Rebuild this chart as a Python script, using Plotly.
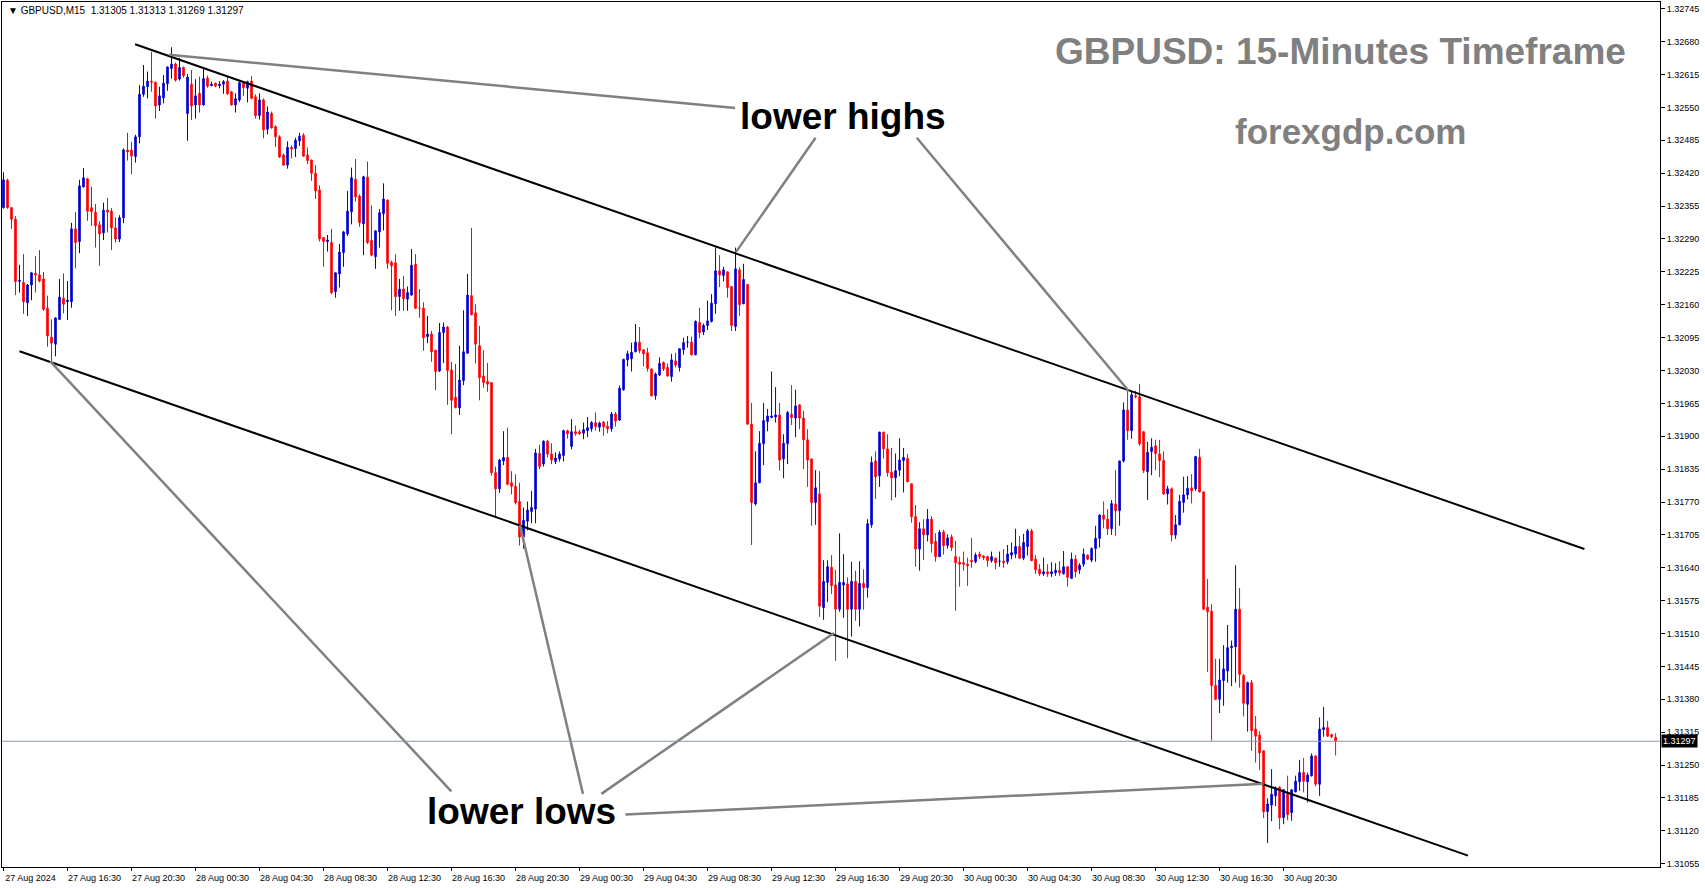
import plotly.graph_objects as go

# ---------------- data (GBPUSD M15, 27 Aug 12:30 -> 30 Aug 23:45) ----------------
open_ = [
 1.32352,1.32406,1.32352,1.32329,1.32206,1.32204,1.32164,1.32199,1.32222,1.32219,
 1.32211,1.32153,1.32096,1.32082,1.32131,1.32173,1.32166,1.32166,1.32310,1.32285,
 1.32393,1.32409,1.32352,1.32343,1.32318,1.32302,1.32347,1.32345,1.32312,1.32290,
 1.32332,1.32466,1.32466,1.32453,1.32492,1.32576,1.32591,1.32602,1.32600,1.32555,
 1.32569,1.32597,1.32627,1.32636,1.32606,1.32629,1.32538,1.32596,1.32555,1.32578,
 1.32555,1.32608,1.32593,1.32598,1.32593,1.32596,1.32602,1.32581,1.32555,1.32565,
 1.32599,1.32588,1.32602,1.32571,1.32534,1.32565,1.32507,1.32538,1.32512,1.32492,
 1.32456,1.32436,1.32471,1.32469,1.32484,1.32495,1.32456,1.32446,1.32420,1.32387,
 1.32293,1.32285,1.32283,1.32186,1.32221,1.32263,1.32300,1.32344,1.32408,1.32375,
 1.32320,1.32412,1.32287,1.32255,1.32304,1.32340,1.32367,1.32244,1.32243,1.32176,
 1.32191,1.32171,1.32179,1.32240,1.32153,1.32153,1.32097,1.32102,1.32070,1.32029,
 1.32105,1.32116,1.32031,1.31977,1.31956,1.32010,1.32064,1.32178,1.32144,1.32079,
 1.32019,1.32008,1.32006,1.31828,1.31796,1.31851,1.31858,1.31808,1.31801,1.31771,
 1.31701,1.31732,1.31751,1.31756,1.31866,1.31845,1.31890,1.31865,1.31850,1.31855,
 1.31862,1.31911,1.31880,1.31909,1.31909,1.31906,1.31911,1.31915,1.31927,1.31918,
 1.31928,1.31920,1.31915,1.31944,1.31932,1.31992,1.32051,1.32053,1.32067,1.32086,
 1.32071,1.32065,1.32033,1.31980,1.32021,1.32046,1.32036,1.32018,1.32049,1.32036,
 1.32071,1.32086,1.32086,1.32061,1.32125,1.32106,1.32119,1.32127,1.32162,1.32227,
 1.32218,1.32225,1.32196,1.32117,1.32229,1.32162,1.32200,1.31924,1.31766,1.31808,
 1.31885,1.31929,1.31937,1.31938,1.31942,1.31855,1.31885,1.31943,1.31936,1.31962,
 1.31936,1.31893,1.31855,1.31769,1.31786,1.31561,1.31611,1.31641,1.31606,1.31558,
 1.31606,1.31608,1.31558,1.31613,1.31558,1.31609,1.31601,1.31725,1.31851,1.31822,
 1.31908,1.31875,1.31829,1.31818,1.31833,1.31852,1.31856,1.31806,1.31741,1.31677,
 1.31717,1.31705,1.31736,1.31692,1.31662,1.31711,1.31684,1.31701,1.31662,1.31651,
 1.31650,1.31647,1.31655,1.31652,1.31667,1.31663,1.31662,1.31654,1.31659,1.31653,
 1.31653,1.31652,1.31665,1.31667,1.31682,1.31659,1.31682,1.31713,1.31657,1.31637,
 1.31628,1.31632,1.31628,1.31630,1.31635,1.31628,1.31642,1.31619,1.31657,1.31636,
 1.31647,1.31665,1.31655,1.31678,1.31698,1.31744,1.31736,1.31717,1.31766,1.31753,
 1.31851,1.31952,1.31911,1.31980,1.31978,1.31909,1.31830,1.31870,1.31881,1.31865,
 1.31852,1.31786,1.31796,1.31705,1.31725,1.31769,1.31784,1.31798,1.31796,1.31858,
 1.31790,1.31562,1.31554,1.31407,1.31380,1.31417,1.31436,1.31482,1.31484,1.31558,
 1.31427,1.31370,1.31413,1.31321,1.31309,1.31278,1.31158,1.31171,1.31189,1.31206,
 1.31146,1.31195,1.31156,1.31197,1.31217,1.31235,1.31217,1.31229,1.31268,1.31212,
 1.31320,1.31324,1.31310,1.31305]

high = [
 1.32422,1.32409,1.32353,1.32335,1.32239,1.32260,1.32201,1.32225,1.32256,1.32268,
 1.32225,1.32178,1.32131,1.32135,1.32211,1.32222,1.32207,1.32322,1.32343,1.32407,
 1.32430,1.32411,1.32393,1.32359,1.32325,1.32362,1.32371,1.32351,1.32333,1.32337,
 1.32469,1.32500,1.32482,1.32496,1.32594,1.32634,1.32621,1.32660,1.32601,1.32591,
 1.32614,1.32631,1.32669,1.32639,1.32648,1.32631,1.32616,1.32624,1.32606,1.32611,
 1.32627,1.32613,1.32601,1.32599,1.32602,1.32604,1.32610,1.32583,1.32578,1.32601,
 1.32602,1.32603,1.32612,1.32576,1.32578,1.32568,1.32552,1.32542,1.32515,1.32495,
 1.32459,1.32483,1.32475,1.32490,1.32500,1.32499,1.32471,1.32447,1.32436,1.32396,
 1.32294,1.32298,1.32310,1.32225,1.32280,1.32306,1.32385,1.32431,1.32448,1.32378,
 1.32415,1.32443,1.32356,1.32307,1.32349,1.32400,1.32368,1.32247,1.32260,1.32211,
 1.32217,1.32196,1.32270,1.32260,1.32191,1.32165,1.32138,1.32108,1.32071,1.32124,
 1.32125,1.32118,1.32047,1.32043,1.32079,1.32149,1.32221,1.32312,1.32161,1.32118,
 1.32070,1.32045,1.32007,1.31840,1.31855,1.31910,1.31917,1.31831,1.31825,1.31808,
 1.31759,1.31771,1.31792,1.31875,1.31883,1.31892,1.31893,1.31886,1.31868,1.31870,
 1.31913,1.31913,1.31934,1.31921,1.31913,1.31927,1.31938,1.31930,1.31947,1.31929,
 1.31930,1.31930,1.31948,1.31948,1.32000,1.32053,1.32069,1.32085,1.32122,1.32116,
 1.32072,1.32075,1.32034,1.32026,1.32056,1.32048,1.32044,1.32063,1.32065,1.32074,
 1.32095,1.32098,1.32097,1.32129,1.32154,1.32123,1.32168,1.32181,1.32273,1.32258,
 1.32235,1.32226,1.32197,1.32273,1.32234,1.32241,1.32201,1.31966,1.31870,1.31910,
 1.31966,1.31954,1.32028,1.31997,1.31966,1.31904,1.31950,1.32001,1.31992,1.31963,
 1.31950,1.31914,1.31856,1.31833,1.31831,1.31655,1.31655,1.31665,1.31636,1.31708,
 1.31667,1.31621,1.31652,1.31634,1.31653,1.31637,1.31736,1.31860,1.31870,1.31909,
 1.31909,1.31904,1.31877,1.31866,1.31896,1.31877,1.31865,1.31807,1.31764,1.31730,
 1.31736,1.31756,1.31742,1.31708,1.31715,1.31715,1.31706,1.31706,1.31693,1.31662,
 1.31672,1.31660,1.31699,1.31670,1.31672,1.31665,1.31664,1.31672,1.31660,1.31672,
 1.31677,1.31685,1.31690,1.31717,1.31703,1.31707,1.31717,1.31717,1.31665,1.31647,
 1.31660,1.31647,1.31651,1.31649,1.31653,1.31673,1.31643,1.31670,1.31665,1.31649,
 1.31678,1.31666,1.31680,1.31723,1.31746,1.31771,1.31756,1.31774,1.31833,1.31852,
 1.31967,1.31990,1.31988,1.31990,1.32003,1.31910,1.31889,1.31896,1.31893,1.31893,
 1.31870,1.31802,1.31799,1.31744,1.31784,1.31820,1.31821,1.31825,1.31861,1.31875,
 1.31791,1.31618,1.31568,1.31460,1.31460,1.31487,1.31527,1.31496,1.31645,1.31600,
 1.31430,1.31415,1.31418,1.31347,1.31317,1.31279,1.31184,1.31242,1.31208,1.31208,
 1.31202,1.31229,1.31202,1.31229,1.31260,1.31264,1.31235,1.31273,1.31269,1.31344,
 1.31365,1.31337,1.31312,1.31313]

low = [
 1.32350,1.32350,1.32310,1.32179,1.32184,1.32142,1.32138,1.32169,1.32184,1.32204,
 1.32148,1.32077,1.32047,1.32058,1.32130,1.32143,1.32130,1.32154,1.32232,1.32262,
 1.32392,1.32326,1.32316,1.32273,1.32237,1.32288,1.32303,1.32268,1.32283,1.32284,
 1.32321,1.32445,1.32418,1.32441,1.32479,1.32571,1.32568,1.32581,1.32528,1.32543,
 1.32558,1.32583,1.32607,1.32601,1.32603,1.32609,1.32484,1.32525,1.32528,1.32540,
 1.32554,1.32589,1.32592,1.32590,1.32588,1.32577,1.32575,1.32554,1.32540,1.32561,
 1.32573,1.32560,1.32566,1.32528,1.32526,1.32489,1.32497,1.32508,1.32472,1.32450,
 1.32435,1.32429,1.32449,1.32452,1.32474,1.32452,1.32438,1.32405,1.32369,1.32285,
 1.32235,1.32265,1.32181,1.32174,1.32194,1.32235,1.32296,1.32319,1.32364,1.32314,
 1.32258,1.32280,1.32256,1.32231,1.32273,1.32307,1.32231,1.32149,1.32138,1.32148,
 1.32148,1.32148,1.32178,1.32151,1.32134,1.32069,1.32084,1.32047,1.31991,1.32027,
 1.32045,1.31962,1.31904,1.31955,1.31942,1.32001,1.32063,1.32139,1.32044,1.31971,
 1.31996,1.31988,1.31822,1.31740,1.31788,1.31843,1.31803,1.31785,1.31765,1.31684,
 1.31678,1.31714,1.31728,1.31728,1.31835,1.31840,1.31858,1.31845,1.31845,1.31850,
 1.31850,1.31895,1.31874,1.31901,1.31903,1.31894,1.31898,1.31909,1.31911,1.31909,
 1.31901,1.31906,1.31909,1.31919,1.31930,1.31990,1.32038,1.32028,1.32066,1.32064,
 1.32038,1.32028,1.31979,1.31972,1.32019,1.32029,1.32018,1.32008,1.32036,1.32028,
 1.32061,1.32075,1.32060,1.32060,1.32094,1.32100,1.32110,1.32125,1.32142,1.32195,
 1.32206,1.32174,1.32108,1.32108,1.32138,1.32161,1.31922,1.31685,1.31763,1.31807,
 1.31843,1.31910,1.31936,1.31927,1.31832,1.31817,1.31845,1.31922,1.31898,1.31914,
 1.31835,1.31800,1.31723,1.31725,1.31543,1.31537,1.31572,1.31588,1.31456,1.31553,
 1.31541,1.31461,1.31504,1.31535,1.31524,1.31557,1.31581,1.31719,1.31776,1.31800,
 1.31856,1.31820,1.31773,1.31779,1.31821,1.31789,1.31809,1.31729,1.31642,1.31634,
 1.31655,1.31692,1.31670,1.31652,1.31661,1.31666,1.31678,1.31673,1.31555,1.31603,
 1.31634,1.31604,1.31640,1.31649,1.31657,1.31655,1.31642,1.31650,1.31637,1.31642,
 1.31640,1.31647,1.31657,1.31659,1.31658,1.31655,1.31664,1.31653,1.31628,1.31624,
 1.31624,1.31622,1.31622,1.31624,1.31624,1.31627,1.31603,1.31618,1.31621,1.31628,
 1.31642,1.31655,1.31651,1.31652,1.31680,1.31718,1.31705,1.31705,1.31703,1.31723,
 1.31848,1.31893,1.31895,1.31975,1.31881,1.31827,1.31774,1.31823,1.31833,1.31819,
 1.31784,1.31765,1.31692,1.31697,1.31724,1.31749,1.31775,1.31767,1.31792,1.31789,
 1.31556,1.31434,1.31298,1.31378,1.31353,1.31367,1.31413,1.31406,1.31413,1.31403,
 1.31346,1.31316,1.31278,1.31255,1.31240,1.31145,1.31096,1.31139,1.31169,1.31123,
 1.31133,1.31141,1.31140,1.31196,1.31199,1.31196,1.31176,1.31227,1.31208,1.31189,
 1.31306,1.31306,1.31303,1.31269]

close = [
 1.32407,1.32352,1.32329,1.32206,1.32208,1.32166,1.32199,1.32223,1.32219,1.32207,
 1.32151,1.32098,1.32084,1.32134,1.32175,1.32161,1.32169,1.32310,1.32283,1.32395,
 1.32411,1.32345,1.32344,1.32316,1.32300,1.32347,1.32343,1.32312,1.32290,1.32332,
 1.32466,1.32462,1.32454,1.32492,1.32576,1.32592,1.32602,1.32600,1.32553,1.32573,
 1.32598,1.32630,1.32636,1.32604,1.32629,1.32613,1.32610,1.32553,1.32573,1.32555,
 1.32607,1.32592,1.32596,1.32592,1.32596,1.32601,1.32577,1.32555,1.32567,1.32599,
 1.32589,1.32601,1.32568,1.32534,1.32565,1.32506,1.32541,1.32510,1.32492,1.32452,
 1.32436,1.32471,1.32468,1.32485,1.32493,1.32454,1.32445,1.32420,1.32385,1.32290,
 1.32285,1.32288,1.32184,1.32223,1.32264,1.32304,1.32345,1.32411,1.32373,1.32322,
 1.32413,1.32283,1.32258,1.32306,1.32342,1.32369,1.32242,1.32237,1.32176,1.32191,
 1.32172,1.32184,1.32238,1.32153,1.32153,1.32095,1.32102,1.32067,1.32028,1.32105,
 1.32116,1.32030,1.31971,1.31957,1.32011,1.32067,1.32179,1.32140,1.32082,1.32016,
 1.32006,1.32003,1.31828,1.31796,1.31853,1.31858,1.31805,1.31801,1.31769,1.31701,
 1.31734,1.31754,1.31759,1.31867,1.31840,1.31890,1.31865,1.31853,1.31857,1.31865,
 1.31911,1.31905,1.31909,1.31905,1.31905,1.31913,1.31917,1.31927,1.31919,1.31926,
 1.31919,1.31915,1.31944,1.31930,1.31995,1.32052,1.32063,1.32066,1.32086,1.32069,
 1.32063,1.32034,1.31980,1.32023,1.32044,1.32033,1.32019,1.32051,1.32041,1.32073,
 1.32085,1.32086,1.32061,1.32127,1.32105,1.32119,1.32128,1.32163,1.32227,1.32219,
 1.32229,1.32194,1.32119,1.32231,1.32160,1.32210,1.31924,1.31769,1.31808,1.31886,
 1.31931,1.31940,1.31940,1.31942,1.31853,1.31886,1.31947,1.31937,1.31960,1.31936,
 1.31893,1.31853,1.31769,1.31798,1.31564,1.31613,1.31642,1.31605,1.31558,1.31611,
 1.31611,1.31558,1.31613,1.31558,1.31609,1.31601,1.31727,1.31848,1.31820,1.31908,
 1.31875,1.31828,1.31818,1.31832,1.31853,1.31858,1.31810,1.31741,1.31677,1.31717,
 1.31705,1.31736,1.31688,1.31662,1.31710,1.31684,1.31699,1.31680,1.31650,1.31647,
 1.31647,1.31644,1.31652,1.31665,1.31662,1.31660,1.31654,1.31662,1.31650,1.31653,
 1.31650,1.31667,1.31670,1.31682,1.31659,1.31690,1.31713,1.31654,1.31636,1.31628,
 1.31632,1.31628,1.31632,1.31635,1.31630,1.31642,1.31621,1.31657,1.31632,1.31645,
 1.31667,1.31657,1.31678,1.31698,1.31744,1.31736,1.31717,1.31767,1.31753,1.31851,
 1.31952,1.31911,1.31982,1.31978,1.31885,1.31832,1.31868,1.31878,1.31866,1.31852,
 1.31786,1.31796,1.31705,1.31725,1.31771,1.31784,1.31797,1.31792,1.31860,1.31790,
 1.31558,1.31553,1.31407,1.31380,1.31418,1.31440,1.31482,1.31485,1.31558,1.31429,
 1.31372,1.31413,1.31318,1.31307,1.31274,1.31158,1.31173,1.31192,1.31204,1.31146,
 1.31201,1.31152,1.31201,1.31218,1.31235,1.31218,1.31230,1.31268,1.31212,1.31321,
 1.31324,1.31307,1.31306,1.31297]

assert len(open_) == len(high) == len(low) == len(close) == 334

# x axis labels (every 16 bars = 4 hours)
x_tick_bars = [0, 16, 32, 48, 64, 80, 96, 112, 128, 144, 160, 176, 192, 208, 224, 240,
               256, 272, 288, 304, 320]
x_tick_labels = ["27 Aug 2024", "27 Aug 16:30", "27 Aug 20:30", "28 Aug 00:30", "28 Aug 04:30",
                 "28 Aug 08:30", "28 Aug 12:30", "28 Aug 16:30", "28 Aug 20:30", "29 Aug 00:30",
                 "29 Aug 04:30", "29 Aug 08:30", "29 Aug 12:30", "29 Aug 16:30", "29 Aug 20:30",
                 "30 Aug 00:30", "30 Aug 04:30", "30 Aug 08:30", "30 Aug 12:30", "30 Aug 16:30",
                 "30 Aug 20:30"]

# y axis ticks
y_ticks = [1.31055, 1.31120, 1.31185, 1.31250, 1.31315, 1.31380, 1.31445, 1.31510, 1.31575,
           1.31640, 1.31705, 1.31770, 1.31835, 1.31900, 1.31965, 1.32030, 1.32095, 1.32160,
           1.32225, 1.32290, 1.32355, 1.32420, 1.32485, 1.32550, 1.32615, 1.32680, 1.32745]

# drawn analysis lines: (bar0, price0, bar1, price1)
channel_lines = [
    (32.9, 1.32675, 395.2, 1.31677),   # upper channel
    (4.0, 1.32068, 366.1, 1.31071),    # lower channel
]
pointer_lines = [
    (41.4, 1.32654, 182.9, 1.32549),
    (203.0, 1.32490, 183.1, 1.32264),
    (228.3, 1.32490, 281.25, 1.31990),
    (11.7, 1.32048, 111.95, 1.31198),
    (129.1, 1.31724, 144.85, 1.31193),
    (149.45, 1.31193, 207.6, 1.31511),
    (155.45, 1.31152, 315.0, 1.31213),
]
label_lower_highs = (209.8, 1.32533)
label_lower_lows = (129.4, 1.31159)

# ---------------- figure ----------------
BLUE = "#0000CC"
RED = "#FF0000"
FONT = "Liberation Sans, Arial, sans-serif"

bars = list(range(len(close)))

fig = go.Figure()
fig.add_trace(go.Candlestick(
    x=bars, open=open_, high=high, low=low, close=close,
    increasing=dict(line=dict(color=BLUE, width=1), fillcolor=BLUE),
    decreasing=dict(line=dict(color=RED, width=1), fillcolor=RED),
    whiskerwidth=0, showlegend=False, hoverinfo="skip",
))

shapes = []
for (a0, p0, a1, p1) in channel_lines:
    shapes.append(dict(type="line", xref="x", yref="y", x0=a0, y0=p0, x1=a1, y1=p1,
                       line=dict(color="black", width=2)))
for (a0, p0, a1, p1) in pointer_lines:
    shapes.append(dict(type="line", xref="x", yref="y", x0=a0, y0=p0, x1=a1, y1=p1,
                       line=dict(color="#808080", width=2.5)))
# bid line
shapes.append(dict(type="line", xref="paper", yref="y", x0=0, x1=1,
                   y0=close[-1], y1=close[-1], line=dict(color="#8898ae", width=1)))

annotations = [
    dict(xref="paper", yref="paper", x=0, y=1, xanchor="left", yanchor="top",
         xshift=4, yshift=-1, showarrow=False,
         text="\u25BC GBPUSD,M15\u00a0\u00a0%.5f %.5f %.5f %.5f" % (open_[-1], high[-1], low[-1], close[-1]),
         font=dict(family=FONT, size=10, color="black")),
    dict(xref="paper", yref="paper", x=0.8075, y=0.9432, xanchor="center", yanchor="middle",
         showarrow=False, text="<b>GBPUSD: 15-Minutes Timeframe</b>",
         font=dict(family=FONT, size=37, color="#808080")),
    dict(xref="paper", yref="paper", x=0.8133, y=0.8502, xanchor="center", yanchor="middle",
         showarrow=False, text="<b>forexgdp.com</b>",
         font=dict(family=FONT, size=35, color="#808080")),
    dict(xref="x", yref="y", x=label_lower_highs[0], y=label_lower_highs[1],
         xanchor="center", yanchor="middle", showarrow=False, text="<b>lower highs</b>",
         font=dict(family=FONT, size=37, color="black")),
    dict(xref="x", yref="y", x=label_lower_lows[0], y=label_lower_lows[1],
         xanchor="center", yanchor="middle", showarrow=False, text="<b>lower lows</b>",
         font=dict(family=FONT, size=37, color="black")),
    dict(xref="paper", yref="y", x=1, y=close[-1], xanchor="left", yanchor="middle",
         xshift=1, showarrow=False, text="%.5f" % close[-1], bgcolor="black",
         borderpad=1, font=dict(family=FONT, size=9, color="white")),
]

fig.update_layout(
    width=1705, height=888,
    margin=dict(l=2, r=45, t=2, b=21),
    paper_bgcolor="white", plot_bgcolor="white",
    showlegend=False, boxgap=0.45,
    shapes=shapes, annotations=annotations,
    hovermode=False,
)
fig.update_xaxes(
    range=[-0.375, 414.1], rangeslider=dict(visible=False),
    tickmode="array", tickvals=x_tick_bars, ticktext=x_tick_labels,
    showgrid=False, zeroline=False, showline=True, linecolor="black", linewidth=1,
    mirror=True, ticks="outside", ticklen=3, tickcolor="black",
    tickfont=dict(family=FONT, size=9, color="black"), ticklabelshift=27,
    ticklabelstandoff=-1,
)
fig.update_yaxes(
    side="right", range=[1.310484, 1.327585],
    tickmode="array", tickvals=y_ticks, ticktext=["%.5f" % v for v in y_ticks],
    showgrid=False, zeroline=False, showline=True, linecolor="black", linewidth=1,
    mirror=True, ticks="outside", ticklen=4, tickcolor="black",
    tickfont=dict(family=FONT, size=9, color="black"),
)

fig.write_html(
    "out.html",
    config={"displayModeBar": False},
    post_script="document.body.style.margin='0';document.body.style.overflow='hidden';",
)
